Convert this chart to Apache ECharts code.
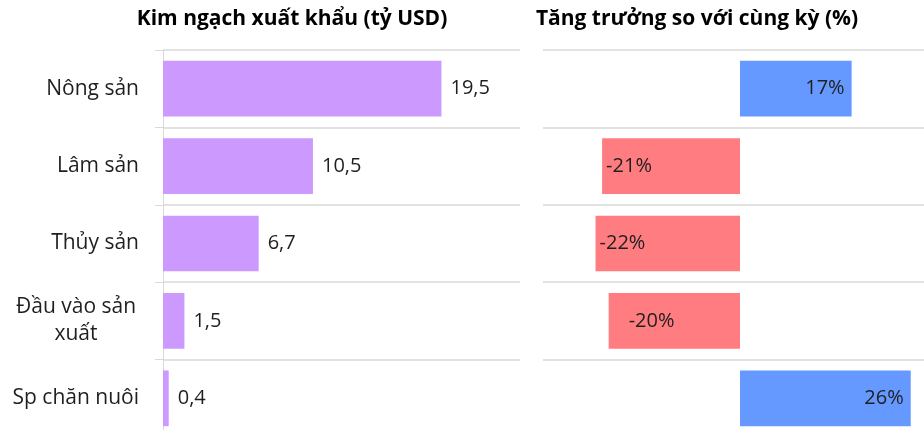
<!DOCTYPE html>
<html>
<head>
<meta charset="utf-8">
<script src="https://cdn.jsdelivr.net/npm/echarts@6/dist/echarts.min.js"></script>
<style>
  html, body { margin: 0; padding: 0; background: #fff; }
  #chart { width: 924px; height: 430px; }
</style>
</head>
<body>
<div id="chart"></div>
<script>
var categories = ['Nông sản', 'Lâm sản', 'Thủy sản', 'Đầu vào sản\nxuất', 'Sp chăn nuôi'];
var exportValues = [19.5, 10.5, 6.7, 1.5, 0.4];
var growthValues = [17, -21, -22, -20, 26];

var FONT = '"Open Sans", sans-serif';
var GRID_LINE = '#d9d9d9';
var TEXT = '#1f1f1f';

var myChart = echarts.init(document.getElementById('chart'));

var growthData = growthValues.map(function (v, i) {
  var item = {
    value: v,
    itemStyle: { color: v >= 0 ? '#6699ff' : '#ff7c80' },
    label: {
      position: v >= 0 ? 'insideRight' : 'insideLeft',
      distance: v >= 0 ? 7 : 4
    }
  };
  // this one sits further in on the original
  if (i === 3) item.label.distance = 20;
  return item;
});

var option = {
  animation: false,
  textStyle: { fontFamily: FONT },
  title: [
    {
      text: 'Kim ngạch xuất khẩu (tỷ USD)',
      left: 287,
      top: 4,
      textAlign: 'center',
      textStyle: { fontFamily: FONT, fontSize: 21, fontWeight: 'bold', color: '#000' }
    },
    {
      text: 'Tăng trưởng so với cùng kỳ (%)',
      left: 692,
      top: 4,
      textAlign: 'center',
      textStyle: { fontFamily: FONT, fontSize: 21, fontWeight: 'bold', color: '#000' }
    }
  ],
  grid: [
    { left: 163, top: 50, width: 357, height: 387, outerBoundsMode: 'none' },
    { left: 543, top: 50, width: 394, height: 387, outerBoundsMode: 'none' }
  ],
  xAxis: [
    { gridIndex: 0, type: 'value', min: 0, max: 25, show: false },
    { gridIndex: 1, type: 'value', min: -30, max: 30, show: false }
  ],
  yAxis: [
    {
      gridIndex: 0,
      type: 'category',
      data: categories,
      inverse: true,
      axisLine: { show: true, lineStyle: { color: GRID_LINE, width: 1 } },
      axisTick: { show: true, length: 8, lineStyle: { color: GRID_LINE } },
      splitLine: { show: true, lineStyle: { color: GRID_LINE, width: 1.5 } },
      axisLabel: {
        margin: 24,
        fontFamily: FONT,
        fontSize: 21,
        color: TEXT,
        lineHeight: 27,
        formatter: function (val) {
          if (val.indexOf('\n') >= 0) {
            return val.split('\n').map(function (s) { return '{c|' + s + '}'; }).join('\n');
          }
          return val;
        },
        rich: {
          c: { width: 126, align: 'center', fontSize: 21, fontFamily: FONT, color: TEXT, lineHeight: 27 }
        }
      }
    },
    {
      gridIndex: 1,
      type: 'category',
      data: categories,
      inverse: true,
      axisLine: { show: false },
      axisTick: { show: false },
      axisLabel: { show: false },
      splitLine: { show: true, lineStyle: { color: GRID_LINE, width: 1.5 } }
    }
  ],
  series: [
    {
      type: 'bar',
      xAxisIndex: 0,
      yAxisIndex: 0,
      data: exportValues,
      barCategoryGap: '28%',
      itemStyle: { color: '#cc99ff' },
      label: {
        show: true,
        position: 'right',
        distance: 9,
        fontFamily: FONT,
        fontSize: 20,
        color: TEXT,
        formatter: function (p) { return String(p.value).replace('.', ','); }
      }
    },
    {
      type: 'bar',
      xAxisIndex: 1,
      yAxisIndex: 1,
      data: growthData,
      barCategoryGap: '28%',
      label: {
        show: true,
        fontFamily: FONT,
        fontSize: 20,
        color: TEXT,
        formatter: function (p) { return p.value + '%'; }
      }
    }
  ]
};

myChart.setOption(option);
</script>
</body>
</html>
